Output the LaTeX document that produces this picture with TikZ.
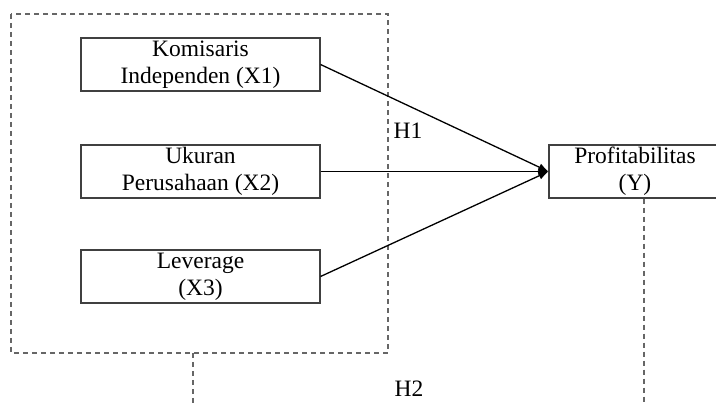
\documentclass[tikz,border=0pt]{standalone}
\usepackage{fontspec}
\setmainfont{Liberation Serif}
\usetikzlibrary{arrows.meta}

\begin{document}
\begin{tikzpicture}[x=1pt,y=-1pt, every node/.style={font=\fontsize{23.5}{27}\selectfont},
      box/.style={draw=black!75,line width=1.1pt,minimum width=239pt,minimum height=53pt,inner sep=0pt,align=center},
      frame/.style={draw=black!60,line width=1.2pt,dash pattern=on 5pt off 4pt},
      link/.style={line width=1.3pt,-{Latex[length=10pt,width=8pt]}}]
      \clip (0,0) rectangle (716,403);
      \node[box] (x1) at (200.5,64.5) {Komisaris\\Independen (X1)};
      \node[box] (x2) at (200.5,171.5) {Ukuran\\Perusahaan (X2)};
      \node[box] (x3) at (200.5,276.5) {Leverage\\(X3)};
      \node[box,minimum width=172pt] (y) at (635,171.5) {Profitabilitas\\(Y)};
      \draw[frame] (11,14) rectangle (388,353);
      \coordinate (gb) at (193,353);
      \coordinate (gd) at (193,403);
      \coordinate (yd) at (644,403);
      \draw[frame] (gb) -- (gd);
      \draw[frame] (y.south -| yd) -- (yd);
      \draw[link] (x1.east) -- (y.west);
      \draw[link] (x2.east) -- (y.west);
      \draw[link] (x3.east) -- (y.west);
      \node[inner sep=0pt] (h1) at (408,131) {H1};
      \node[inner sep=0pt] (h2) at (409,389) {H2};
    \end{tikzpicture}
\end{document}
